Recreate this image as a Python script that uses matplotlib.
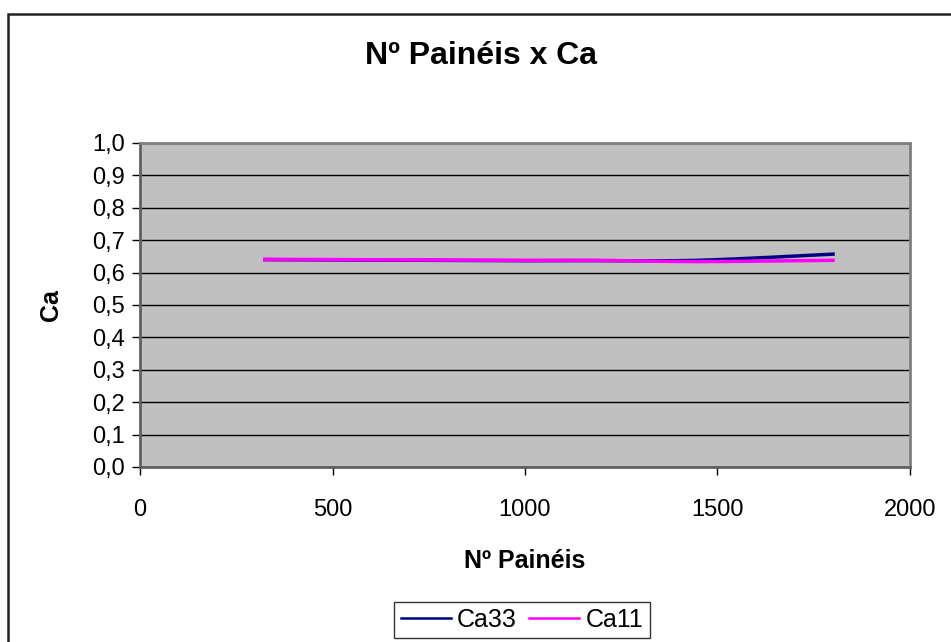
import numpy as np
import matplotlib
matplotlib.use('Agg')
import matplotlib.pyplot as plt
from matplotlib.patches import Rectangle
from matplotlib.ticker import FuncFormatter

plt.rcParams['font.family'] = ['Liberation Sans', 'DejaVu Sans']

# data
paineis = [324, 900, 1160, 1450, 1800]
ca33 = [0.640, 0.637, 0.637, 0.638, 0.657]
ca11 = [0.641, 0.638, 0.638, 0.634, 0.638]


def smooth(x, y, n=40):
    # catmull-rom like excel "smoothed line"
    x = np.asarray(x, float)
    y = np.asarray(y, float)
    px = np.concatenate([[x[0]], x, [x[-1]]])
    py = np.concatenate([[y[0]], y, [y[-1]]])
    xs, ys = [], []
    t = np.linspace(0, 1, n)
    for i in range(1, len(px) - 2):
        for arr, out in ((px, xs), (py, ys)):
            p0, p1, p2, p3 = arr[i - 1], arr[i], arr[i + 1], arr[i + 2]
            c1 = p1 + (p2 - p0) / 6
            c2 = p2 - (p3 - p1) / 6
            out.append((1 - t) ** 3 * p1 + 3 * (1 - t) ** 2 * t * c1
                       + 3 * (1 - t) * t ** 2 * c2 + t ** 3 * p2)
    return np.concatenate(xs), np.concatenate(ys)


fig = plt.figure(figsize=(9.51, 6.42), dpi=100)
# outer chart frame (runs off the right and bottom edges)
fig.patches.append(Rectangle((8 / 951, -10 / 642), 960 / 951, 638 / 642,
                             transform=fig.transFigure, fill=False,
                             edgecolor='#222222', linewidth=1.8))

ax = fig.add_axes([140 / 951, 1 - 467 / 642, 770 / 951, 324 / 642])
ax.set_facecolor('#C0C0C0')
for s in ax.spines.values():
    s.set_color('#808080')
    s.set_linewidth(2)
ax.spines['left'].set_color('#606060')
ax.spines['bottom'].set_color('#606060')

sx, sy = smooth(paineis, ca33)
ax.plot(sx, sy, color='#000080', lw=2.5, label='Ca33')
sx, sy = smooth(paineis, ca11)
ax.plot(sx, sy, color='#FF00FF', lw=2.5, label='Ca11')

ax.set_xlim(0, 2000)
ax.set_ylim(0, 1.0)
ax.set_xticks(np.arange(0, 2001, 500))
ax.set_yticks(np.arange(0, 1.01, 0.1))
ax.yaxis.set_major_formatter(FuncFormatter(lambda v, p: ('%.1f' % v).replace('.', ',')))
ax.yaxis.grid(True, color='black', lw=1)
ax.set_axisbelow(True)
ax.tick_params(axis='both', labelsize=17, direction='out', length=6,
               color='black', width=1)
ax.tick_params(axis='x', pad=17)
ax.tick_params(axis='y', pad=5)

ax.set_xlabel('Nº Painéis', fontsize=18, fontweight='bold', labelpad=20)
ax.set_ylabel('Ca', fontsize=18, fontweight='bold', labelpad=21)
fig.text(481 / 951, 1 - 56 / 642, 'Nº Painéis x Ca', fontsize=23,
         fontweight='bold', ha='center', va='center')

leg = fig.legend(loc='center', bbox_to_anchor=(522 / 951, 1 - 620 / 642),
                 ncol=2, fontsize=18, frameon=True, fancybox=False,
                 edgecolor='black', handlelength=2.0, columnspacing=0.5,
                 handletextpad=0.25, borderpad=0.25, borderaxespad=0)
leg.get_frame().set_linewidth(1)
for h in leg.get_lines():
    h.set_linewidth(1.8)

fig.savefig('out.png', dpi=100)
